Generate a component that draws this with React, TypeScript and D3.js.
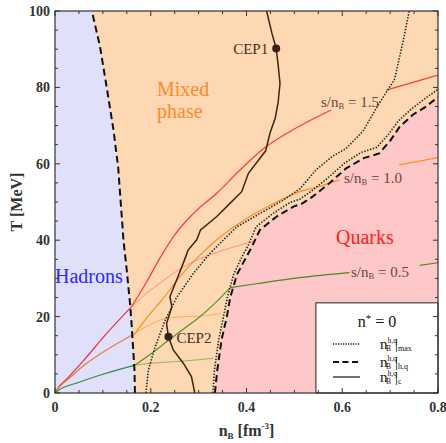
import React from 'react';
import * as d3 from 'd3';

type P = [number, number];

// phase boundaries [n_B, T]
const hadronEdge: P[] = [
  [0.167, 0], [0.166, 6], [0.163, 12], [0.16, 18], [0.157, 23], [0.15, 32], [0.143, 40],
  [0.139, 47], [0.132, 59], [0.122, 69], [0.108, 80], [0.094, 90.7], [0.077, 100],
];
const quarkEdge: P[] = [
  [0.334, 0], [0.339, 6], [0.348, 14], [0.359, 20], [0.366, 25], [0.38, 31], [0.397, 35],
  [0.41, 38], [0.428, 42.7], [0.463, 46.2], [0.498, 48.8], [0.515, 49.5], [0.538, 51.4],
  [0.573, 54.9], [0.608, 58.8], [0.645, 61.5], [0.677, 62.7], [0.7, 66], [0.72, 69.7],
  [0.747, 72.8], [0.775, 75], [0.8, 77.5],
];
const maxLeft: P[] = [
  [0.19, 0], [0.195, 6], [0.209, 12], [0.23, 19], [0.254, 25], [0.289, 31.3], [0.324, 36.6],
  [0.359, 41], [0.38, 43.5], [0.428, 47], [0.477, 50.5], [0.512, 53.5], [0.545, 58.4],
  [0.58, 62], [0.608, 64], [0.643, 68.5], [0.677, 75.8], [0.709, 82], [0.727, 92], [0.74, 100],
];
const maxRight: P[] = [
  [0.33, 0], [0.333, 6], [0.342, 14], [0.352, 20], [0.36, 25], [0.373, 31], [0.39, 35.5],
  [0.405, 39], [0.42, 43.5], [0.455, 47], [0.49, 49.8], [0.512, 50.8], [0.535, 52.8],
  [0.57, 56.3], [0.605, 60.2], [0.64, 63], [0.672, 64.3], [0.697, 67.8], [0.717, 71.2],
  [0.745, 74.4], [0.772, 77], [0.8, 79.5],
];
const critLine: P[] = [
  [0.292, 0], [0.285, 4.3], [0.268, 7.8], [0.247, 11.3], [0.237, 14.7], [0.233, 18.2],
  [0.244, 22.6], [0.24, 25.2], [0.254, 29.6], [0.268, 34], [0.278, 37.4], [0.296, 40.1],
  [0.304, 42.7], [0.338, 46.2], [0.366, 49.7], [0.39, 52.7], [0.404, 57.5], [0.44, 63.4],
  [0.449, 68], [0.46, 72], [0.466, 76], [0.47, 81], [0.466, 86], [0.462, 90.2],
  [0.453, 94.2], [0.442, 100],
];
const ceps: { name: string; p: P }[] = [
  { name: 'CEP1', p: [0.462, 90.2] },
  { name: 'CEP2', p: [0.237, 14.7] },
];

// isentropes
const red15Had: P[] = [[0, 0], [0.006, 1.3], [0.024, 3.6], [0.059, 8.4], [0.108, 15.6], [0.16, 22.6]];
const red15Mix: P[] = [
  [0.16, 22.6], [0.19, 28.8], [0.22, 35.5], [0.25, 41.4], [0.3, 48.3], [0.338, 52.3],
  [0.386, 58.3], [0.432, 63.6], [0.49, 68.4], [0.577, 74.1],
];
const red15Top: P[] = [[0.692, 79.3], [0.8, 83.2]];
const red15Faint: P[] = [
  [0.16, 22.6], [0.2, 27], [0.226, 29.4], [0.268, 33], [0.3, 35], [0.338, 36.8], [0.375, 38.3], [0.414, 39.7],
];
const or10Had: P[] = [[0, 0], [0.006, 1.1], [0.031, 4], [0.06, 7.2], [0.094, 10.2], [0.167, 15.6]];
const or10Mix: P[] = [
  [0.167, 15.6], [0.195, 20.2], [0.223, 24.3], [0.268, 31.5], [0.303, 36.1], [0.338, 40.1],
  [0.407, 46.2], [0.46, 49.8], [0.512, 52.7], [0.545, 53.8], [0.594, 55.8],
];
const or10Top: P[] = [[0.719, 59.7], [0.8, 61.6]];
const or10Faint: P[] = [[0.167, 15.6], [0.2, 18], [0.23, 19.5], [0.26, 19.9], [0.303, 20.1], [0.345, 20.8]];
const gr05Had: P[] = [[0, 0], [0.006, 0.6], [0.05, 2.8], [0.1, 4.9], [0.167, 7.3]];
const gr05Mix: P[] = [
  [0.167, 7.3], [0.2, 10.2], [0.233, 13.4], [0.27, 16.9], [0.296, 19.3], [0.33, 23], [0.366, 27.6],
];
const gr05Quark: P[] = [[0.366, 27.6], [0.42, 28.6], [0.512, 30.2], [0.615, 31.5]];
const gr05Top: P[] = [[0.762, 33.4], [0.8, 34.1]];
const gr05Faint: P[] = [[0.167, 7.3], [0.2, 7.8], [0.25, 8.2], [0.3, 8.7], [0.331, 9.1]];

const xTicks = [0, 0.2, 0.4, 0.6, 0.8];
const xMinor = [0.05, 0.1, 0.15, 0.25, 0.3, 0.35, 0.45, 0.5, 0.55, 0.65, 0.7, 0.75];
const yTicks = [0, 20, 40, 60, 80, 100];
const yMinor = [5, 10, 15, 25, 30, 35, 45, 50, 55, 65, 70, 75, 85, 90, 95];

const legendCorner: P = [0.545, 23.6];

const W = 446;
const H = 443;
const m = { top: 11, right: 8, bottom: 50, left: 55 };

const x = d3.scaleLinear().domain([0, 0.8]).range([m.left, W - m.right]);
const y = d3.scaleLinear().domain([0, 100]).range([H - m.bottom, m.top]);
const line = d3.line<P>().x((d) => x(d[0])).y((d) => y(d[1]));
const smooth = d3.line<P>().x((d) => x(d[0])).y((d) => y(d[1])).curve(d3.curveMonotoneX);

const serif = '"Liberation Serif", "DejaVu Serif", serif';

export default function App() {
  const x0 = x(0), x1 = x(0.8), y0 = y(0), y1 = y(100);
  const pts = (a: P[]) => a.map((d) => `${x(d[0])},${y(d[1])}`).join(' ');
  const mixed = [...hadronEdge, [0.8, 100] as P, ...[...quarkEdge].reverse()];
  const hadron = [[0, 0] as P, ...hadronEdge, [0, 100] as P];

  const iso = (d: P[], color: string, w = 1.1, op = 1) => (
    <path d={smooth(d) || ''} fill="none" stroke={color} strokeWidth={w} opacity={op} />
  );

  const lx = x(legendCorner[0]);
  const ly = y(legendCorner[1]);

  return (
    <div style={{ position: 'absolute', left: 0, top: 0 }}>
      <svg width={W} height={H} style={{ display: 'block', fontFamily: serif }}>
        <defs>
          <clipPath id="plot">
            <rect x={x0} y={y1} width={x1 - x0} height={y0 - y1} />
          </clipPath>
        </defs>
        <rect width={W} height={H} fill="#fff" />
        <g clipPath="url(#plot)">
          <rect x={x0} y={y1} width={x1 - x0} height={y0 - y1} fill="#ffc8c8" />
          <polygon points={pts(mixed)} fill="#fdd8b3" />
          <polygon points={pts(hadron)} fill="#e0e0fa" />

          {iso(red15Faint, '#ff8070', 1, 0.85)}
          {iso(or10Faint, '#ffa040', 1, 0.85)}
          {iso(gr05Faint, '#80b040', 1, 0.85)}
          {iso(red15Had, '#e8304a', 1.2)}
          {iso(red15Mix, '#ff3a2a', 1.2)}
          {iso(red15Top, '#ff3a2a', 1.2)}
          {iso(or10Had, '#f07a30', 1.2)}
          {iso(or10Mix, '#ff8c1a', 1.2)}
          {iso(or10Top, '#ff8c1a', 1.2)}
          {iso(gr05Had, '#2a9040', 1.2)}
          {iso(gr05Mix, '#4a9a20', 1.2)}
          {iso(gr05Quark, '#4a8a20', 1.2)}
          {iso(gr05Top, '#4a8a20', 1.2)}

          <path d={line(maxLeft) || ''} fill="none" stroke="#222" strokeWidth={1.6} strokeDasharray="1.4,1.6" />
          <path d={line(maxRight) || ''} fill="none" stroke="#222" strokeWidth={1.6} strokeDasharray="1.4,1.6" />
          <path d={line(hadronEdge) || ''} fill="none" stroke="#111" strokeWidth={2} strokeDasharray="7,4" />
          <path d={line(quarkEdge) || ''} fill="none" stroke="#111" strokeWidth={2} strokeDasharray="7,4" />
          <path d={line(critLine) || ''} fill="none" stroke="#3c2612" strokeWidth={1.5} />
          {ceps.map((c) => (
            <circle key={c.name} cx={x(c.p[0])} cy={y(c.p[1])} r={4} fill="#3a2010" />
          ))}
        </g>

        {/* region labels */}
        <text x={157} y={96} fontSize={20} fill="#ff8a2a">Mixed</text>
        <text x={157} y={118} fontSize={20} fill="#ff8a2a">phase</text>
        <text x={55} y={283} fontSize={20} fill="#2a2aff">Hadrons</text>
        <text x={336} y={244} fontSize={20} fill="#ff2020">Quarks</text>
        <text x={x(ceps[0].p[0]) - 8} y={y(ceps[0].p[1]) + 6} fontSize={15} fill="#4a3020" textAnchor="end">CEP1</text>
        <text x={x(ceps[1].p[0]) + 8} y={y(ceps[1].p[1]) + 6} fontSize={15} fill="#4a3020">CEP2</text>

        {/* isentrope labels */}
        {[
          { t: '1.5', xx: 321, yy: 107 },
          { t: '1.0', xx: 344, yy: 183 },
          { t: '0.5', xx: 351, yy: 277 },
        ].map((l) => (
          <text key={l.t} x={l.xx} y={l.yy} fontSize={15} fill="#6a4636">
            s/n<tspan fontSize={8.5} dy={2}>B</tspan>
            <tspan dy={-2}> = {l.t}</tspan>
          </text>
        ))}

        {/* legend */}
        <rect x={lx} y={ly} width={x1 - lx} height={y0 - ly} fill="#fff" stroke="#222" strokeWidth={1} />
        <text x={(lx + x1) / 2} y={327} fontSize={16} textAnchor="middle" fill="#111">
          n<tspan fontSize={11} dy={-5}>*</tspan>
          <tspan dy={5}> = 0</tspan>
        </text>
        {[
          { dash: '1.2,1.3', w: 1.4, sub: 'max', yy: 344 },
          { dash: '6,3.5', w: 2, sub: 'h,q', yy: 362 },
          { dash: '', w: 1.2, sub: 'c', yy: 377 },
        ].map((e) => (
          <g key={e.sub}>
            <line x1={333} x2={360} y1={e.yy} y2={e.yy} stroke="#111" strokeWidth={e.w} strokeDasharray={e.dash || undefined} />
            <text x={380} y={e.yy + 5} fontSize={15} fill="#111">
              n<tspan fontSize={7.5} dy={-6}>h,q</tspan>
              <tspan fontSize={7.5} dx={-11} dy={8}>B</tspan>
              <tspan dx={4} dy={-2} fontSize={15}>|</tspan>
              <tspan fontSize={8} dy={2}>{e.sub}</tspan>
            </text>
          </g>
        ))}

        {/* frame and ticks */}
        <rect x={x0} y={y1} width={x1 - x0} height={y0 - y1} fill="none" stroke="#333" strokeWidth={1.2} />
        {xTicks.map((t) => (
          <g key={'xt' + t}>
            <line x1={x(t)} x2={x(t)} y1={y0} y2={y0 - 5} stroke="#333" />
            <line x1={x(t)} x2={x(t)} y1={y1} y2={y1 + 5} stroke="#333" />
            <text x={x(t)} y={412} fontSize={14} fontWeight="bold" textAnchor="middle" fill="#333">{t === 0 ? '0' : t.toFixed(1)}</text>
          </g>
        ))}
        {xMinor.map((t) => (
          <g key={'xm' + t}>
            <line x1={x(t)} x2={x(t)} y1={y0} y2={y0 - 3} stroke="#333" />
            <line x1={x(t)} x2={x(t)} y1={y1} y2={y1 + 3} stroke="#333" />
          </g>
        ))}
        {yTicks.map((t) => (
          <g key={'yt' + t}>
            <line x1={x0} x2={x0 + 5} y1={y(t)} y2={y(t)} stroke="#333" />
            <line x1={x1} x2={x1 - 5} y1={y(t)} y2={y(t)} stroke="#333" />
            <text x={50} y={y(t) + 5} fontSize={14} fontWeight="bold" textAnchor="end" fill="#333">{t}</text>
          </g>
        ))}
        {yMinor.map((t) => (
          <g key={'ym' + t}>
            <line x1={x0} x2={x0 + 3} y1={y(t)} y2={y(t)} stroke="#333" />
            <line x1={x1} x2={x1 - 3} y1={y(t)} y2={y(t)} stroke="#333" />
          </g>
        ))}

        {/* axis titles */}
        <text transform={`translate(22,${(y0 + y1) / 2}) rotate(-90)`} fontSize={16} fontWeight="bold" textAnchor="middle" fill="#333">
          T [MeV]
        </text>
        <text x={(x0 + x1) / 2} y={436} fontSize={16} fontWeight="bold" textAnchor="middle" fill="#333">
          n<tspan fontSize={9} dy={3}>B</tspan>
          <tspan dy={-3}> [fm</tspan>
          <tspan fontSize={9} dy={-7}>-3</tspan>
          <tspan dy={7}>]</tspan>
        </text>
      </svg>
    </div>
  );
}
